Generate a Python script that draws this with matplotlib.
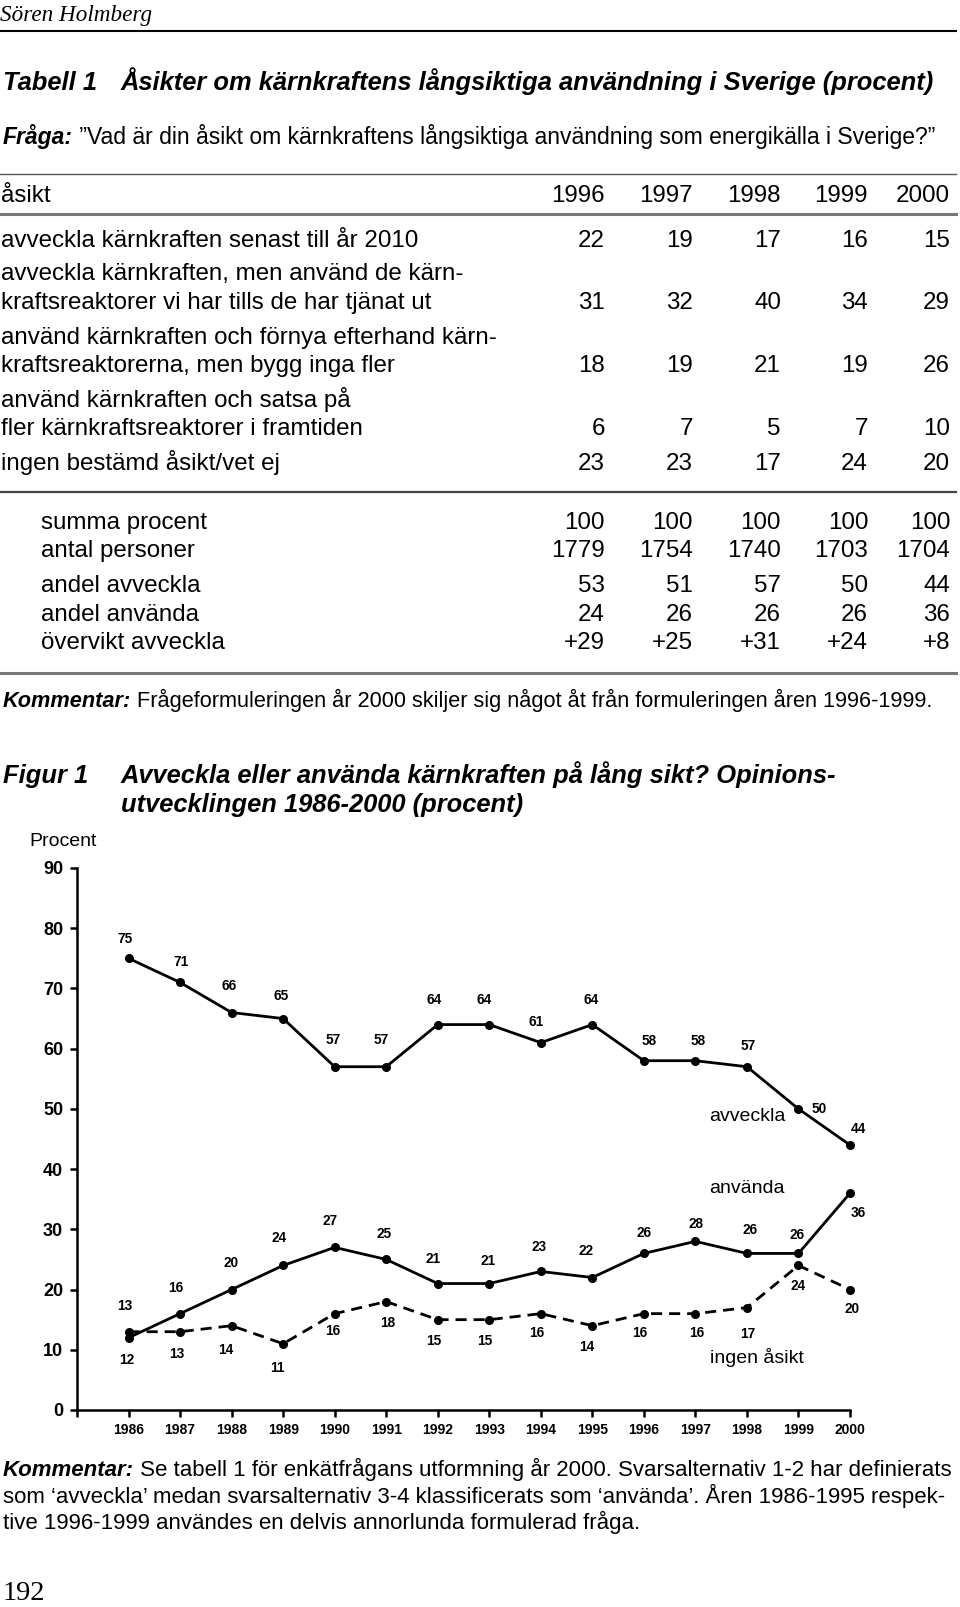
"""
Sida 192 – Tabell 1 och Figur 1: åsikter om kärnkraftens långsiktiga användning
"""
import matplotlib
matplotlib.use("Agg")
import matplotlib.pyplot as plt
from matplotlib.lines import Line2D

plt.rcParams["font.family"] = ["Liberation Sans", "DejaVu Sans"]

W, H = 960, 1607

# ── Tabell 1 ──────────────────────────────────────────────────────────
TABLE_YEARS = ["1996", "1997", "1998", "1999", "2000"]
ROW_LABELS = [
    ["avveckla kärnkraften senast till år 2010"],
    ["avveckla kärnkraften, men använd de kärn-",
     "kraftsreaktorer vi har tills de har tjänat ut"],
    ["använd kärnkraften och förnya efterhand kärn-",
     "kraftsreaktorerna, men bygg inga fler"],
    ["använd kärnkraften och satsa på",
     "fler kärnkraftsreaktorer i framtiden"],
    ["ingen bestämd åsikt/vet ej"],
]
ROW_VALUES = [
    [22, 19, 17, 16, 15],
    [31, 32, 40, 34, 29],
    [18, 19, 21, 19, 26],
    [6, 7, 5, 7, 10],
    [23, 23, 17, 24, 20],
]
SUM_LABELS = ["summa procent", "antal personer", "andel avveckla",
              "andel använda", "övervikt avveckla"]
SUM_VALUES = [
    ["100", "100", "100", "100", "100"],
    ["1779", "1754", "1740", "1703", "1704"],
    ["53", "51", "57", "50", "44"],
    ["24", "26", "26", "26", "36"],
    ["+29", "+25", "+31", "+24", "+8"],
]

# ── Figur 1 ───────────────────────────────────────────────────────────
YEARS = list(range(1986, 2001))
AVVECKLA = [75, 71, 66, 65, 57, 57, 64, 64, 61, 64, 58, 58, 57, 50, 44]
ANVANDA = [12, 16, 20, 24, 27, 25, 21, 21, 23, 22, 26, 28, 26, 26, 36]
INGEN = [13, 13, 14, 11, 16, 18, 15, 15, 16, 14, 16, 16, 17, 24, 20]

# etikettplacering (pixlar relativt punkten)
AVV_OFF = [(-4, 19), (1, 20), (-2, 27), (-2, 23), (-1, 27), (-5, 27), (-4, 25), (-5, 25),
           (-5, 21), (-1, 25), (5, 20), (3, 20), (1, 21), (21, 0), (8, 16)]
ANV_OFF = [(-2, -22), (-4, 26), (-1, 27), (-4, 27), (-5, 26), (-2, 25), (-5, 25), (-1, 23),
           (-2, 24), (-6, 27), (0, 20), (1, 17), (3, 23), (-1, 18), (8, -20)]
ING_OFF = [(-4, 26), (-3, -22), (-6, -24), (-6, -24), (-2, -17), (1, -21), (-4, -21), (-5, -21),
           (-4, -19), (-6, -21), (-4, -19), (1, -19), (1, -26), (0, -21), (2, -19)]

fig = plt.figure(figsize=(W / 100, H / 100), dpi=100)
renderer = fig.canvas.get_renderer()


def txt(x, y, s, fontsize, **kw):
    # y = textens mittlinje i pixlar; placeras på baslinjen
    base = y + 0.5 * fontsize
    return fig.text(x / W, 1 - base / H, s, fontsize=fontsize, va="baseline", **kw)


def width10(s, **kw):
    t = fig.text(0, 0, s, fontsize=10, **kw)
    w = t.get_window_extent(renderer).width
    t.remove()
    return w


def fit(s, target, **kw):
    return 10 * target / width10(s, **kw)


def rule(y, lw, color):
    fig.add_artist(Line2D([0, 956 / W], [1 - y / H, 1 - y / H],
                          transform=fig.transFigure, lw=lw, color=color))


BI = dict(fontweight="bold", style="italic")

# sidhuvud
txt(0, 13, "Sören Holmberg",
    fit("Sören Holmberg", 152, family="Liberation Serif", style="italic"),
    family="Liberation Serif", style="italic")
rule(31, 1.5, "black")

# tabellrubrik
title = "Åsikter om kärnkraftens långsiktiga användning i Sverige (procent)"
fs_title = fit(title, 816, **BI)
txt(3, 81, "Tabell 1", fs_title, **BI)
txt(121, 81, title, fs_title, **BI)

# fråga
q = " ”Vad är din åsikt om kärnkraftens långsiktiga användning som energikälla i Sverige?”"
fs_q = 10 * 937 / (width10("Fråga:", **BI) + width10(q))
t = txt(3, 136, "Fråga:", fs_q, **BI)
txt(t.get_window_extent(renderer).x1 * W / fig.bbox.width, 136, q, fs_q)

rule(174, 1.0, "#555555")
FS = fit(ROW_LABELS[0][0], 420)
COL_X = [605, 693, 781, 868, 950]

txt(1, 193, "åsikt", FS)
for cx, yr in zip(COL_X, TABLE_YEARS):
    txt(cx, 193, yr, FS, ha="right")
rule(214, 2.2, "#777777")

ROW_Y = [[238], [271, 300], [335, 363], [398, 426], [461]]
for lines, ys, vals in zip(ROW_LABELS, ROW_Y, ROW_VALUES):
    for line, yy in zip(lines, ys):
        txt(1, yy, line, FS)
    for cx, v in zip(COL_X, vals):
        txt(cx, ys[-1], str(v), FS, ha="right")
rule(492, 1.6, "#444444")

SUM_Y = [520, 548, 583, 612, 640]
for lab, yy, vals in zip(SUM_LABELS, SUM_Y, SUM_VALUES):
    txt(41, yy, lab, FS)
    for cx, v in zip(COL_X, vals):
        txt(cx, yy, v, FS, ha="right")
rule(673, 2.2, "#777777")

k1 = " Frågeformuleringen år 2000 skiljer sig något åt från formuleringen åren 1996-1999."
fs_k = 10 * 939 / (width10("Kommentar:", **BI) + width10(k1))
t = txt(3, 699, "Kommentar:", fs_k, **BI)
txt(t.get_window_extent(renderer).x1, 699, k1, fs_k)

# ── figurrubrik ──────────────────────────────────────────────────────
ft1 = "Avveckla eller använda kärnkraften på lång sikt? Opinions-"
fs_f = fit(ft1, 717, **BI)
txt(3, 774, "Figur 1", fs_f, **BI)
txt(121, 774, ft1, fs_f, **BI)
txt(121, 803, "utvecklingen 1986-2000 (procent)", fs_f, **BI)
txt(63, 839, "Procent", 14, ha="center")

# ── diagram ──────────────────────────────────────────────────────────
ax = fig.add_axes([77 / W, 1 - 1410 / H, (850 - 77) / W, (1410 - 868) / H])
ax.set_xlim(1985, 2000)
ax.set_ylim(0, 90)
for side in ("top", "right"):
    ax.spines[side].set_visible(False)
for side in ("left", "bottom"):
    ax.spines[side].set_linewidth(1.8)

ax.plot(YEARS, AVVECKLA, "-o", color="black", lw=2, ms=5.5, clip_on=False)
ax.plot(YEARS, ANVANDA, "-o", color="black", lw=2, ms=5.5, clip_on=False)
ax.plot(YEARS, INGEN, "--o", color="black", lw=2, ms=5.5, dashes=(4, 2.5), clip_on=False)

for vals, offs in ((AVVECKLA, AVV_OFF), (ANVANDA, ANV_OFF), (INGEN, ING_OFF)):
    for x, v, (dx, dy) in zip(YEARS, vals, offs):
        ax.annotate(str(v), (x, v), xytext=(dx, dy), textcoords="offset pixels",
                    ha="center", va="center", fontsize=9.8, fontweight="bold")

ax.text(1998, 48.8, "avveckla", fontsize=14, ha="center", va="center")
ax.text(1998, 36.7, "använda", fontsize=14, ha="center", va="center")
ax.text(1998.2, 8.8, "ingen åsikt", fontsize=14, ha="center", va="center")

ax.set_yticks(range(0, 91, 10))
ax.set_xticks(range(1985, 2001))
ax.set_xticklabels([""] + [str(y) for y in YEARS])
ax.tick_params(axis="y", length=5, width=1.8, pad=5, labelsize=13)
ax.tick_params(axis="x", length=5, width=1.8, pad=4, labelsize=10)
for lab in ax.get_xticklabels() + ax.get_yticklabels():
    lab.set_fontweight("bold")

# ── kommentar under figuren ─────────────────────────────────────────
c1 = " Se tabell 1 för enkätfrågans utformning år 2000. Svarsalternativ 1-2 har definierats"
c2 = "som ‘avveckla’ medan svarsalternativ 3-4 klassificerats som ‘använda’. Åren 1986-1995 respek-"
c3 = "tive 1996-1999 användes en delvis annorlunda formulerad fråga."
fs_c = 10 * 953 / (width10("Kommentar:", **BI) + width10(c1))
t = txt(3, 1468, "Kommentar:", fs_c, **BI)
txt(t.get_window_extent(renderer).x1, 1468, c1, fs_c)
txt(3, 1495, c2, fs_c)
txt(3, 1521, c3, fs_c)

txt(3, 1590, "192", fit("192", 43, family="Liberation Serif"), family="Liberation Serif")

fig.savefig("out.png", dpi=100)
plt.close(fig)
